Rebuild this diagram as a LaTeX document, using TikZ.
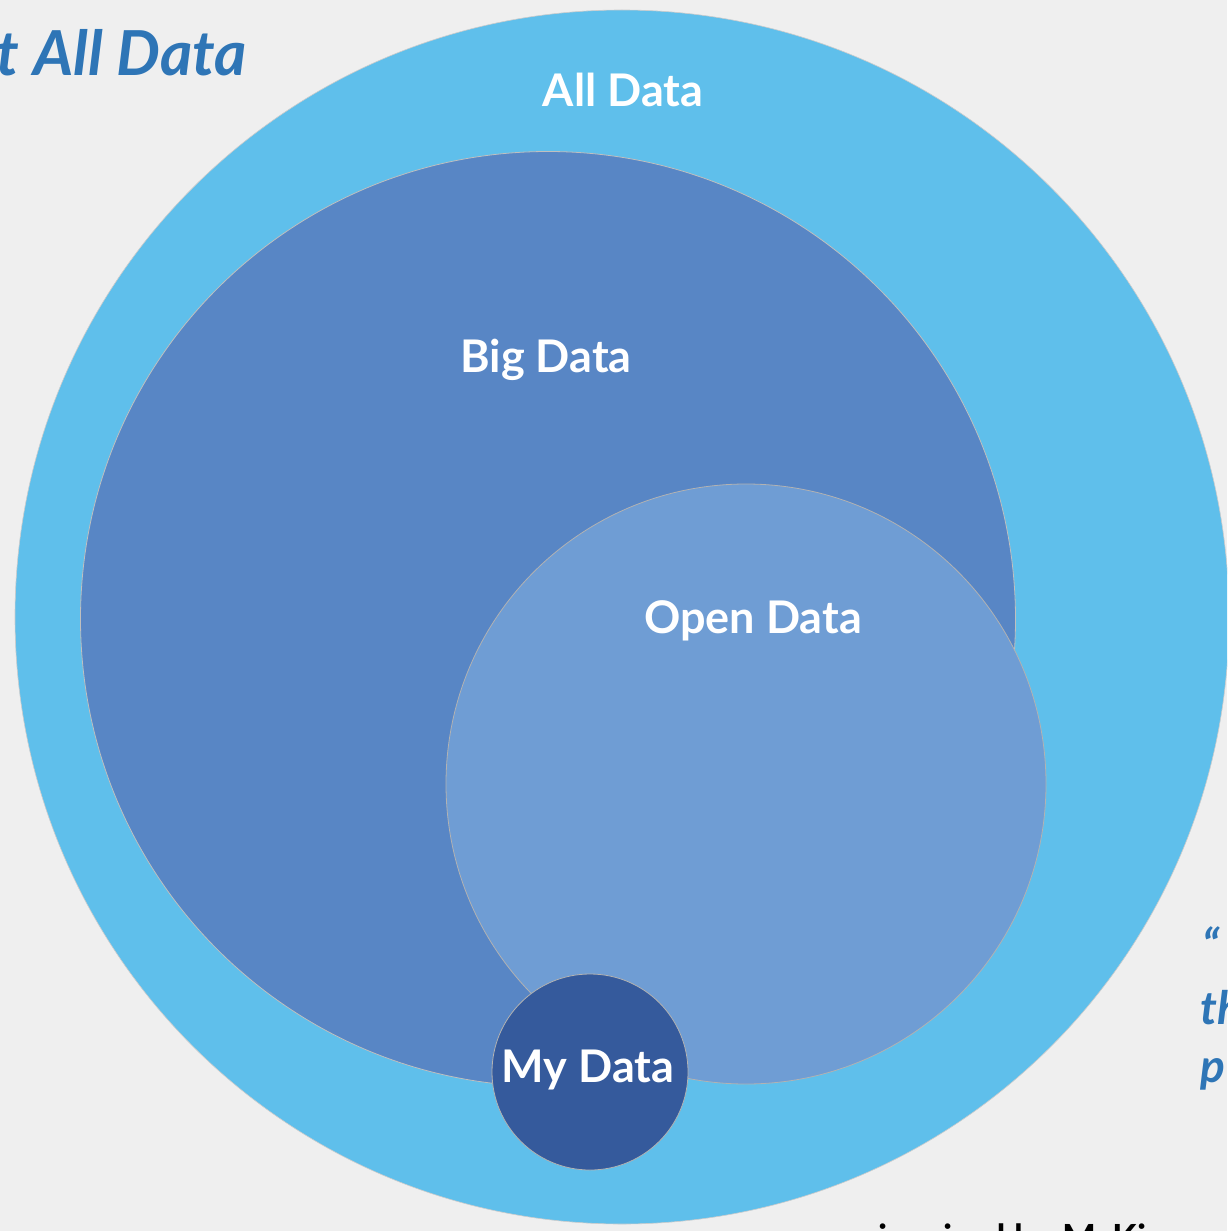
\documentclass[tikz,border=0pt]{standalone}
\usepackage{fontspec}
\setmainfont{Lato}
\definecolor{bgc}{HTML}{EFEFEF}
\definecolor{alld}{HTML}{5FBFEB}
\definecolor{bigd}{HTML}{5886C5}
\definecolor{opend}{HTML}{6F9DD4}
\definecolor{myd}{HTML}{355A9C}
\definecolor{titleblue}{HTML}{2E75B6}
\begin{document}
\begin{tikzpicture}[x=1pt,y=-1pt,
  disc/.style={circle,inner sep=0pt,minimum size=#1},
  lab/.style={text=white,font=\fontsize{45}{48}\selectfont\bfseries,inner sep=0pt},
  side/.style={text=titleblue,font=\fontsize{62}{66}\selectfont\bfseries\itshape,inner sep=0pt}]
\useasboundingbox (0,0) rectangle (1227,1231);
\clip (0,0) rectangle (1227,1231);
\fill[bgc] (0,0) rectangle (1227,1231);
% side texts (cropped slide)
\node[side,anchor=base east] (title) at (247,75) {t All Data};
\node[side,anchor=base west,font=\fontsize{46}{50}\selectfont\bfseries\itshape] (q1) at (1202,962) {“};
\node[side,anchor=base west,font=\fontsize{46}{50}\selectfont\bfseries\itshape] (q2) at (1200,1024) {th};
\node[side,anchor=base west,font=\fontsize{46}{50}\selectfont\bfseries\itshape] (q3) at (1200,1082) {p};
\node[anchor=base west,inner sep=0pt,font=\fontsize{36}{40}\selectfont\bfseries] (src) at (878,1250) {inspired by McKi};
% circles
\node[disc=1214pt,fill=alld,draw=black!20,line width=0.6pt] (all) at (622,617) {};
\node[disc=935pt,fill=bigd,draw=black!25,line width=0.8pt] (big) at (548,619) {};
\node[disc=600pt,fill=opend,draw=black!30,line width=0.8pt] (open) at (746,784) {};
\node[disc=196pt,fill=myd,draw=black!30,line width=0.8pt] (my) at (590,1072) {};
% labels
\node[lab] (lall) at (623,90) {All Data};
\node[lab] (lbig) at (546,360) {Big Data};
\node[lab] (lopen) at (753,621) {Open Data};
\node[lab] (lmy) at (588,1070) {My Data};
\end{tikzpicture}
\end{document}
